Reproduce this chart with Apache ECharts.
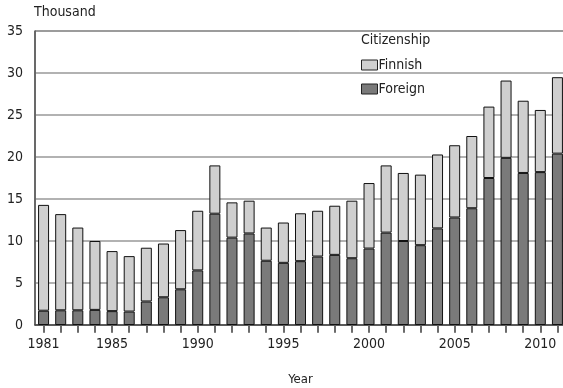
<!DOCTYPE html>
<html><head><meta charset="utf-8">
<script src="https://cdn.jsdelivr.net/npm/echarts@6/dist/echarts.min.js"></script>
<style>html,body{margin:0;padding:0;background:#fff}#c{width:563px;height:388px}</style>
</head><body><div id="c"></div>
<script>
const years = ['1981','1982','1983','1984','1985','1986','1987','1988','1989','1990','1991','1992','1993','1994','1995','1996','1997','1998','1999','2000','2001','2002','2003','2004','2005','2006','2007','2008','2009','2010','2011'];
const totals = [14.3,13.2,11.6,10.0,8.8,8.2,9.2,9.7,11.3,13.6,19.0,14.6,14.8,11.6,12.2,13.3,13.6,14.2,14.8,16.9,19.0,18.1,17.9,20.3,21.4,22.5,26.0,29.1,26.7,25.6,29.5];
const foreign = [1.7,1.75,1.75,1.8,1.65,1.6,2.8,3.3,4.25,6.5,13.25,10.4,10.9,7.65,7.4,7.6,8.15,8.35,7.95,9.1,11.0,10.0,9.5,11.5,12.8,13.9,17.5,19.9,18.1,18.2,20.4];
const finnish = totals.map((t,i)=>+(t-foreign[i]).toFixed(2));
const yTicks = [0,5,10,15,20,25,30,35];
const labelYears = ['1981','1985','1990','1995','2000','2005','2010'];

const FONT = '"Liberation Sans Narrow","DejaVu Sans Condensed",sans-serif';
const chart = echarts.init(document.getElementById('c'));
chart.setOption({
  animation:false,
  textStyle:{fontFamily:FONT,color:'#222'},
  title:{text:'Thousand',left:34,top:5,padding:0,textStyle:{fontFamily:FONT,fontSize:14,fontWeight:'normal',color:'#222'}},
  legend:{
    orient:'vertical',left:361,top:58,padding:0,itemWidth:16,itemHeight:10,itemGap:10,
    icon:'rect',
    data:['Finnish','Foreign'],
    textStyle:{fontFamily:FONT,fontSize:14,color:'#222',padding:[0,0,0,-4]},
    itemStyle:{borderColor:'#222',borderWidth:1}
  },
  graphic:[{type:'text',left:361,top:33,style:{text:'Citizenship',font:'14px '+FONT,fill:'#222'}}],
  grid:{left:35,right:-3,top:31,bottom:63,outerBoundsMode:'none',containLabel:false,show:true,borderColor:'#555',borderWidth:1,backgroundColor:'transparent'},
  xAxis:[{
    type:'category',data:years,boundaryGap:true,
    name:'Year',nameLocation:'middle',nameGap:48,
    nameTextStyle:{fontFamily:FONT,fontSize:13,color:'#222'},
    axisLine:{show:true,lineStyle:{color:'#444',width:1.5}},
    axisTick:{show:true,alignWithLabel:true,interval:0,length:7,lineStyle:{color:'#555',width:1.5}},
    axisLabel:{interval:0,formatter:v=>labelYears.includes(v)?v:'',fontSize:14,color:'#222',margin:12,fontFamily:FONT}
  },{
    type:'category',data:years,boundaryGap:true,position:'bottom',gridIndex:0,
    axisLine:{show:false,onZero:false},
    axisLabel:{show:false},
    splitLine:{show:false},
    axisTick:{show:true,alignWithLabel:true,interval:0,length:8,lineStyle:{color:'#666',width:1.5}}
  }],
  yAxis:{
    type:'value',min:0,max:35,interval:5,
    axisLine:{show:true,lineStyle:{color:'#555',width:1.5}},
    axisTick:{show:false},
    axisLabel:{fontSize:14,color:'#222',margin:12,fontFamily:FONT,formatter:v=>yTicks.includes(v)?String(v):''},
    splitLine:{lineStyle:{color:'#999',width:1.5}}
  },
  series:[
    {name:'Foreign',type:'bar',stack:'a',data:foreign,barWidth:11,
     itemStyle:{color:'#7a7a7a',borderColor:'#111',borderWidth:1}},
    {name:'Finnish',type:'bar',stack:'a',data:finnish,barWidth:11,
     itemStyle:{color:'#cfcfcf',borderColor:'#111',borderWidth:1}}
  ]
});
</script></body></html>
